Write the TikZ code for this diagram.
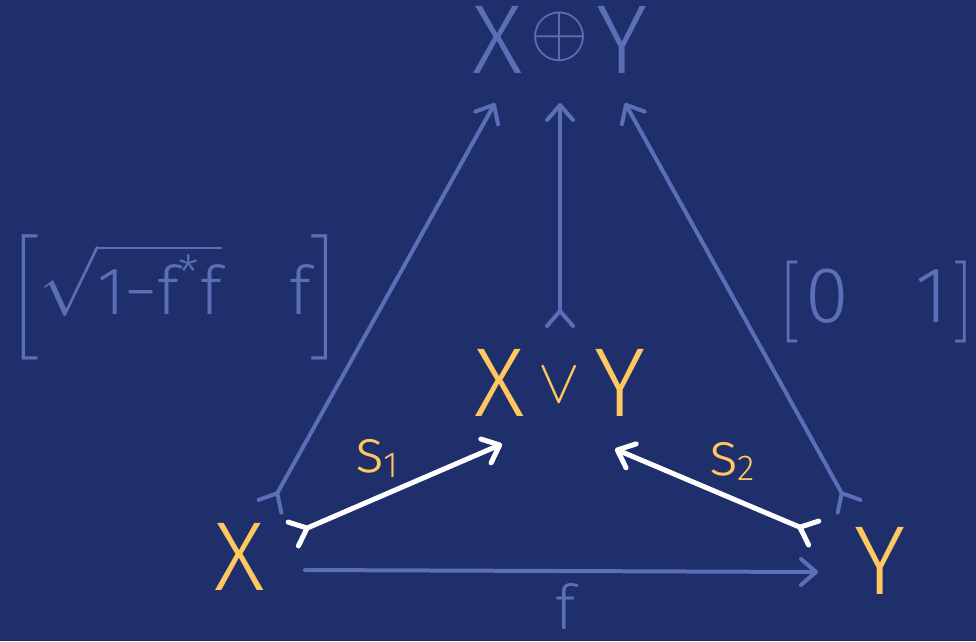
\documentclass[tikz,border=0pt]{standalone}
\usepackage{amsmath}
\usepackage{graphicx}
\usepackage{fontspec}
\IfFontExistsTF{Fira Sans Light}{\setmainfont{Fira Sans Light}}{%
  \IfFontExistsTF{Lato Light}{\setmainfont{Lato Light}}{%
    \IfFontExistsTF{Open Sans Light}{\setmainfont{Open Sans Light}}{\setmainfont{Fira Sans}}}}
\usetikzlibrary{arrows.meta}
\definecolor{navy}{HTML}{1F2F6B}
\definecolor{mapblue}{HTML}{5B6FB7}
\definecolor{objgold}{HTML}{FFC75F}

\begin{document}
\begin{tikzpicture}[x=1pt, y=-1pt,
  >={Straight Barb[round, length=15pt, width=26pt]},
  obj/.style={text=objgold, inner sep=0pt, font=\fontsize{98}{100}\selectfont},
  sumobj/.style={text=mapblue, inner sep=0pt, font=\fontsize{98}{100}\selectfont},
  lbl/.style={text=#1, inner sep=0pt},
  map/.style={draw=mapblue, line width=4pt, line cap=round, >->},
  sec/.style={draw=white, line width=5pt, line cap=round, >->},
]

% Background
\useasboundingbox (0,0) rectangle (976,641);
\fill[navy] (0,0) rectangle (976,641);

% Objects
\node[sumobj] (sum) at (560,40)
  {X\hspace{8pt}\raisebox{18pt}{\scalebox{3}{\fontsize{24}{24}\selectfont$\oplus$}}\hspace{8pt}Y};
\node[obj] (join) at (560,383)
  {X\hspace{14pt}\raisebox{14pt}{\scalebox{2.5}{\fontsize{24}{24}\selectfont$\vee$}}\hspace{14pt}Y};
\node[obj] (xl) at (240,557) {X};
\node[obj] (yr) at (880,561) {Y};

% Maps into X+Y
\draw[map] ([shift={(29pt,49pt)}]xl.center) -- ([shift={(-65pt,-63pt)}]sum.center);
\draw[map] ([yshift=55pt]join.center) -- ([yshift=-63pt]sum.center);
\draw[map] ([shift={(-30pt,53pt)}]yr.center) -- ([shift={(65pt,-63pt)}]sum.center);
\draw[map, ->] ([shift={(65pt,-13pt)}]xl.center) -- ([shift={(-62pt,-11pt)}]yr.center);

% Sections into the join
\draw[sec] ([shift={(51pt,22pt)}]xl.center) -- ([shift={(-58pt,-61pt)}]join.center);
\draw[sec] ([shift={(-64pt,27pt)}]yr.center) -- ([shift={(55pt,-66pt)}]join.center);

% Labels
\node[lbl=mapblue, font=\fontsize{62}{62}\selectfont] (flbl) at (565,606) {f};
\node[lbl=objgold, font=\fontsize{62}{62}\selectfont] (s1lbl) at (377,458)
  {s\raisebox{-5pt}{\fontsize{36}{36}\selectfont 1}};
\node[lbl=objgold, font=\fontsize{62}{62}\selectfont] (s2lbl) at (732,461)
  {s\raisebox{-5pt}{\fontsize{36}{36}\selectfont 2}};

% Matrices
\node[lbl=mapblue] (lmat) at (175,297)
  {\scalebox{2.8}{\fontsize{24}{24}\selectfont
   $\left[\rule[-3pt]{0pt}{18pt}\sqrt{\text{1−f\textsuperscript{*}f}}\hspace{24pt}\text{f}\right]$}};
\node[lbl=mapblue] (rmat) at (877,302)
  {\scalebox{3.3}{\fontsize{24}{24}\selectfont
   $\left[\rule[-4pt]{0pt}{20pt}\hspace{2pt}\text{0}\hspace{20pt}\text{1}\hspace{2pt}\right]$}};

\end{tikzpicture}
\end{document}
